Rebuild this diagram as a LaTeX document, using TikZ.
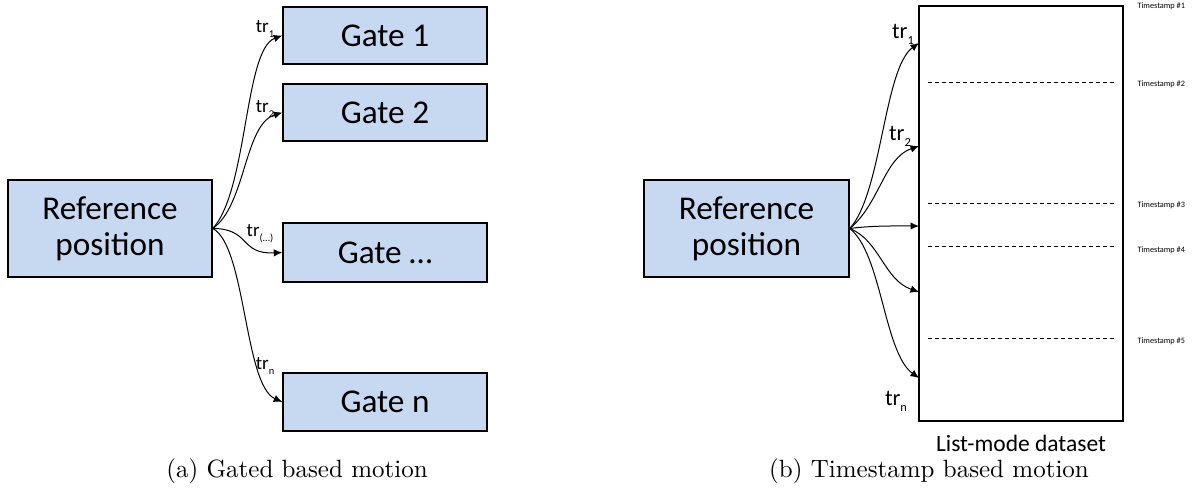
\documentclass[tikz,border=0pt]{standalone}
\usepackage{fontspec}
\newfontfamily\calibri{Carlito}
\usepackage{tikz}
\usetikzlibrary{arrows.meta}
\usetikzlibrary{positioning}
\definecolor{boxblue}{RGB}{198,217,240}
\newcommand{\trsub}[1]{tr\raisebox{-0.55ex}{\scalebox{0.55}{#1}}}
\tikzset{
  blocnode/.style = {align=center, inner sep=0pt, text centered,
    font=\calibri\fontsize{13.3}{14.4}\selectfont},
  bloc_b/.style = {blocnode, rectangle, draw=black, fill=boxblue,
    line width=0.6pt, minimum width=81.6pt},% bloc bleu
  bloc_l/.style = {blocnode, rectangle, draw=black, line width=0.8pt,
    minimum width=81.6pt, minimum height=166pt},% liste
  tr_s/.style = {inner sep=0pt, font=\calibri\fontsize{7.6}{8}\selectfont},% petit label
  tr_m/.style = {inner sep=0pt, font=\calibri\fontsize{9}{10}\selectfont},
  ts_n/.style = {inner sep=0pt, anchor=west,
    font=\calibri\fontsize{3.3}{4}\selectfont},% timestamp
  sep/.style = {line width=0.4pt, dash pattern=on 1.6pt off 1.2pt}
}

\begin{document}
\begin{tikzpicture}[x=0.4pt,y=-0.4pt,->,>={Latex[length=3.4pt,width=3pt]},
  line width=0.4pt]
\useasboundingbox (0,0) rectangle (1199,497);

% (a) gated
\node [bloc_b, minimum height=38.8pt] (refa) at (110,228.5) {Reference\\position};
\node [bloc_b, minimum height=22.8pt] (g1) at (385,35.5) {Gate 1};
\node [bloc_b, minimum height=22.8pt] (g2) at (385,112.5) {Gate 2};
\node [bloc_b, minimum height=23.6pt] (gx) at (385,252.5) {Gate \dots};
\node [bloc_b, minimum height=23.2pt] (gn) at (385,402) {Gate n};

\draw (refa.east) .. controls +(35,-38) and +(-38,14) .. (g1.west);
\draw (refa.east) .. controls +(33,-23) and +(-38,12) .. (g2.west);
\draw (refa.east) .. controls +(38,0) and +(-43,2) .. (gx.west);
\draw (refa.east) .. controls +(33,17) and +(-38,-17) .. (gn.west);

\node [tr_s] (l1) at (265,29) {\trsub{1}};
\node [tr_s] (l2) at (265,109) {\trsub{2}};
\node [tr_s] (lx) at (260,234) {\trsub{(\dots)}};
\node [tr_s] (ln) at (265,366) {\trsub{n}};

\node (capa) at (297,471) {(a) Gated based motion};

% (b) timestamp
\node [bloc_b, minimum height=38.8pt, minimum width=82pt] (refb) at (746.5,228.5) {Reference\\position};
\node [bloc_l] (data) at (1021,213.5) {};
\node [blocnode, font=\calibri\fontsize{9.4}{10}\selectfont, below=5pt of data] (dlab) {List-mode dataset};

\coordinate (t1) at (919,43);
\coordinate (t2) at (919,146);
\coordinate (t3) at (919,226);
\coordinate (t4) at (919,292);
\coordinate (t5) at (919,378);

\draw (refb.east) .. controls +(32,-35) and +(-35,25) .. (t1);
\draw (refb.east) .. controls +(30,-25) and +(-35,12) .. (t2);
\draw (refb.east) .. controls +(22,-3) and +(-22,0) .. (t3);
\draw (refb.east) .. controls +(30,12) and +(-35,-12) .. (t4);
\draw (refb.east) .. controls +(32,25) and +(-35,-25) .. (t5);

\node [tr_m] (m1) at (903,34) {\trsub{1}};
\node [tr_m] (m2) at (900,136) {\trsub{2}};
\node [tr_m] (mn) at (896,401) {\trsub{n}};

\foreach \y/\n in {83/s2, 204/s3, 247/s4, 339/s5}
  \draw [-, sep] (928,\y) -- (1117,\y);

\node [ts_n] (ts1) at (1137,6) {Timestamp \#1};
\node [ts_n] (ts2) at (1137,84) {Timestamp \#2};
\node [ts_n] (ts3) at (1137,205) {Timestamp \#3};
\node [ts_n] (ts4) at (1137,250) {Timestamp \#4};
\node [ts_n] (ts5) at (1137,341) {Timestamp \#5};

\node (capb) at (929,471) {(b) Timestamp based motion};
\end{tikzpicture}
\end{document}
